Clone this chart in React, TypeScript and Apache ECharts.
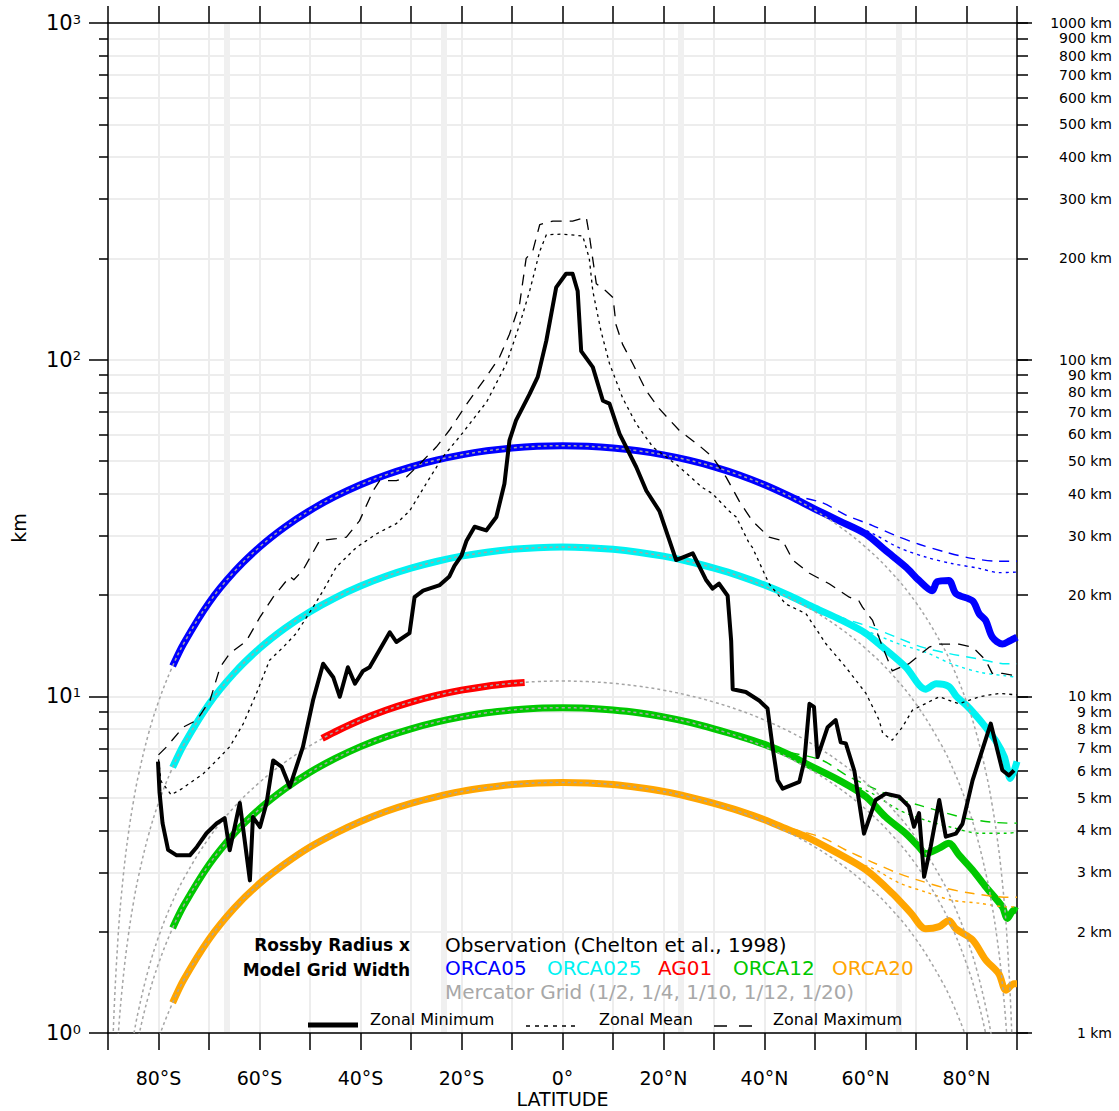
import React, { useEffect, useRef } from 'react';
import * as echarts from 'echarts';

const FONT = '"DejaVu Sans", "Liberation Sans", sans-serif';

// ---------- axis ticks ----------
const kmTickValues = [1, 2, 3, 4, 5, 6, 7, 8, 9, 10, 20, 30, 40, 50, 60, 70, 80, 90, 100, 200, 300, 400, 500, 600, 700, 800, 900, 1000];
const decadeTickValues = [1, 10, 100, 1000];
const minorTickValues = [2, 3, 4, 5, 6, 7, 8, 9, 20, 30, 40, 50, 60, 70, 80, 90, 200, 300, 400, 500, 600, 700, 800, 900];
const referenceLatitudes = [-66.5, -23.5, 23.5, 66.5];

// ---------- Mercator grid widths (km) ----------
const mercatorLatitudes = [-89.5, -89, -88, -87, -86, -85, -84, -82, -80, -77.5, -75, -70, -65, -60, -55, -50, -45, -40, -35, -30, -25, -20, -15, -10, -5, 0, 5, 10, 15, 20, 25, 30, 35, 40, 45, 50, 55, 60, 65, 70, 75, 77.5, 80, 82, 84, 85, 86, 87, 88, 89, 89.5];
const mercator2 = [0.484, 0.969, 1.937, 2.905, 3.871, 4.837, 5.801, 7.724, 9.637, 12.01, 14.36, 18.98, 23.46, 27.75, 31.83, 35.67, 39.24, 42.52, 45.46, 48.06, 50.3, 52.15, 53.61, 54.66, 55.29, 55.5, 55.29, 54.66, 53.61, 52.15, 50.3, 48.06, 45.46, 42.52, 39.24, 35.67, 31.83, 27.75, 23.46, 18.98, 14.36, 12.01, 9.637, 7.724, 5.801, 4.837, 3.871, 2.905, 1.937, 0.969, 0.484];
const mercator4 = [0.242, 0.484, 0.968, 1.452, 1.936, 2.419, 2.901, 3.862, 4.819, 6.006, 7.182, 9.491, 11.73, 13.88, 15.92, 17.84, 19.62, 21.26, 22.73, 24.03, 25.15, 26.08, 26.8, 27.33, 27.64, 27.75, 27.64, 27.33, 26.8, 26.08, 25.15, 24.03, 22.73, 21.26, 19.62, 17.84, 15.92, 13.88, 11.73, 9.491, 7.182, 6.006, 4.819, 3.862, 2.901, 2.419, 1.936, 1.452, 0.968, 0.484, 0.242];
const mercator10 = [0.0969, 0.1937, 0.3874, 0.5809, 0.7743, 0.9674, 1.16, 1.545, 1.927, 2.402, 2.873, 3.796, 4.691, 5.55, 6.367, 7.135, 7.849, 8.503, 9.093, 9.613, 10.06, 10.43, 10.72, 10.93, 11.06, 11.1, 11.06, 10.93, 10.72, 10.43, 10.06, 9.613, 9.093, 8.503, 7.849, 7.135, 6.367, 5.55, 4.691, 3.796, 2.873, 2.402, 1.927, 1.545, 1.16, 0.9674, 0.7743, 0.5809, 0.3874, 0.1937, 0.0969];
const mercator12 = [0.0807, 0.1614, 0.3228, 0.4841, 0.6452, 0.8062, 0.9669, 1.287, 1.606, 2.002, 2.394, 3.164, 3.909, 4.625, 5.306, 5.946, 6.541, 7.086, 7.577, 8.011, 8.383, 8.692, 8.935, 9.109, 9.215, 9.25, 9.215, 9.109, 8.935, 8.692, 8.383, 8.011, 7.577, 7.086, 6.541, 5.946, 5.306, 4.625, 3.909, 3.164, 2.394, 2.002, 1.606, 1.287, 0.9669, 0.8062, 0.6452, 0.4841, 0.3228, 0.1614, 0.0807];
const mercator20 = [0.0484, 0.0969, 0.1937, 0.2905, 0.3871, 0.4837, 0.5801, 0.7724, 0.9637, 1.201, 1.436, 1.898, 2.346, 2.775, 3.183, 3.567, 3.924, 4.252, 4.546, 4.806, 5.03, 5.215, 5.361, 5.466, 5.529, 5.55, 5.529, 5.466, 5.361, 5.215, 5.03, 4.806, 4.546, 4.252, 3.924, 3.567, 3.183, 2.775, 2.346, 1.898, 1.436, 1.201, 0.9637, 0.7724, 0.5801, 0.4837, 0.3871, 0.2905, 0.1937, 0.0969, 0.0484];

// ---------- Model grid widths: zonal minimum [lat, km] ----------
const orca05Min = [[-77.2, 12.3], [-75, 14.36], [-70, 18.98], [-65, 23.46], [-60, 27.75], [-55, 31.83], [-50, 35.67], [-45, 39.24], [-40, 42.52], [-35, 45.46], [-30, 48.06], [-25, 50.3], [-20, 52.15], [-15, 53.61], [-10, 54.66], [-5, 55.29], [0, 55.5], [5, 55.29], [10, 54.66], [15, 53.61], [20, 52.15], [25, 50.3], [30, 48.06], [35, 45.46], [40, 42.52], [45, 39.3], [50, 36.0], [55, 33.1], [60, 30.4], [64, 27.1], [68, 24.2], [70.6, 22.1], [73.2, 20.6], [74.2, 21.9], [76.5, 22.1], [77.9, 20.2], [81.2, 19.2], [82.5, 17.6], [83.8, 16.8], [85.1, 15.0], [87.1, 14.3], [88.5, 14.6], [90, 15.0]];
const orca025Min = [[-77.2, 6.15], [-75, 7.18], [-70, 9.49], [-65, 11.73], [-60, 13.88], [-55, 15.92], [-50, 17.84], [-45, 19.62], [-40, 21.26], [-35, 22.73], [-30, 24.03], [-25, 25.15], [-20, 26.08], [-15, 26.8], [-10, 27.33], [-5, 27.64], [0, 27.75], [5, 27.64], [10, 27.33], [15, 26.8], [20, 26.08], [25, 25.15], [30, 24.03], [35, 22.8], [40, 21.4], [45, 19.9], [50, 18.3], [55, 16.9], [60, 15.4], [63.4, 14.0], [68, 12.2], [71.9, 10.5], [74, 10.9], [76.5, 10.7], [78, 10.0], [80, 9.4], [81.5, 8.9], [83.5, 8.2], [86, 7.3], [87.5, 6.6], [88.7, 5.7], [90, 6.4]];
const ag01Min = [[-47.6, 7.5], [-45, 7.85], [-40, 8.5], [-35, 9.09], [-30, 9.61], [-25, 10.06], [-20, 10.43], [-15, 10.72], [-10, 10.93], [-7.5, 11.0]];
const orca12Min = [[-77.2, 2.05], [-75, 2.39], [-70, 3.16], [-65, 3.91], [-60, 4.63], [-55, 5.31], [-50, 5.95], [-45, 6.54], [-40, 7.09], [-35, 7.58], [-30, 8.01], [-25, 8.38], [-20, 8.69], [-15, 8.94], [-10, 9.11], [-5, 9.22], [0, 9.25], [5, 9.22], [10, 9.11], [15, 8.94], [20, 8.69], [25, 8.38], [30, 8.01], [35, 7.62], [40, 7.2], [45, 6.7], [48.2, 6.31], [54.8, 5.63], [60.1, 5.03], [64, 4.38], [68, 3.91], [70.6, 3.57], [71.9, 3.41], [74.6, 3.54], [76.5, 3.66], [78.5, 3.38], [81.2, 3.05], [83.8, 2.72], [87.1, 2.37], [88.1, 2.19], [89.4, 2.32], [90, 2.3]];
const orca20Min = [[-77.2, 1.23], [-75, 1.44], [-70, 1.9], [-65, 2.35], [-60, 2.78], [-55, 3.18], [-50, 3.57], [-45, 3.92], [-40, 4.25], [-35, 4.55], [-30, 4.81], [-25, 5.03], [-20, 5.22], [-15, 5.36], [-10, 5.47], [-5, 5.53], [0, 5.55], [5, 5.53], [10, 5.47], [15, 5.36], [20, 5.22], [25, 5.03], [30, 4.81], [35, 4.57], [40, 4.3], [45, 4.0], [48.2, 3.83], [54, 3.45], [60.1, 3.05], [65.3, 2.6], [69, 2.27], [71.9, 2.04], [74.6, 2.07], [76.5, 2.16], [77.9, 2.04], [81.2, 1.89], [83.8, 1.65], [86.4, 1.5], [87.8, 1.34], [89.4, 1.4], [90, 1.4]];

// ---------- Model grid widths: zonal mean / maximum (northern hemisphere) ----------
const orca05Max = [[45, 39.6], [51.4, 37.6], [56.2, 34.5], [61.3, 32.2], [66, 30.0], [70.6, 28.3], [75.9, 26.8], [81, 25.7], [86.4, 25.2], [90, 25.2]];
const orca05Mean = [[50, 36.2], [56.8, 32.6], [61.3, 30.5], [66.7, 27.6], [72, 25.9], [77.1, 24.8], [82.5, 24.0], [86.4, 23.3], [90, 23.4]];
const orca025Max = [[48, 18.8], [55.4, 17.1], [61.3, 16.0], [66, 15.0], [71.2, 14.0], [76.5, 13.4], [82.5, 12.9], [87.8, 12.5], [90, 12.5]];
const orca025Mean = [[52, 17.5], [60, 15.7], [66.7, 14.3], [72, 13.5], [77, 12.5], [82.5, 11.8], [87.8, 11.5], [90, 11.4]];
const orca12Max = [[45, 6.8], [51.4, 6.46], [56.2, 5.83], [61.3, 5.36], [66, 4.98], [70.6, 4.75], [76, 4.5], [81, 4.31], [88.4, 4.2], [90, 4.2]];
const orca12Mean = [[50, 6.2], [56.8, 5.51], [61.3, 5.15], [66.7, 4.59], [72, 4.28], [77.1, 4.08], [82.5, 3.92], [88, 3.92], [90, 3.95]];
const orca20Max = [[45, 4.05], [51.4, 3.81], [56.2, 3.49], [61.3, 3.22], [66, 3.0], [70.6, 2.84], [76, 2.69], [81, 2.6], [88.4, 2.53], [90, 2.53]];
const orca20Mean = [[50, 3.75], [56.8, 3.26], [61.3, 3.09], [66.7, 2.79], [72, 2.62], [77.1, 2.48], [82.5, 2.43], [88, 2.37], [90, 2.37]];

// ---------- Observations (Chelton et al., 1998) [lat, km] ----------
const obsMin = [[-80.1, 6.4], [-79.8, 5.2], [-79.2, 4.2], [-78.1, 3.5], [-76.4, 3.37], [-73.8, 3.37], [-72.4, 3.57], [-70.5, 3.92], [-68.5, 4.19], [-66.9, 4.35], [-65.9, 3.49], [-63.9, 4.82], [-61.9, 2.84], [-61.3, 4.38], [-59.9, 4.09], [-58.6, 4.82], [-57.3, 6.45], [-55.6, 6.17], [-54, 5.38], [-51.4, 7.08], [-49.4, 9.73], [-47.4, 12.5], [-45.4, 11.4], [-44.1, 9.97], [-42.5, 12.2], [-41.1, 10.9], [-39.5, 11.9], [-38.2, 12.2], [-34.2, 15.5], [-32.9, 14.5], [-30.3, 15.4], [-29.3, 19.7], [-27.6, 20.6], [-24.3, 21.4], [-22.4, 22.7], [-21.4, 24.4], [-20, 26.2], [-19, 29.0], [-17.4, 31.9], [-15.1, 31.1], [-13.1, 34.1], [-11.5, 42.8], [-10.5, 57.6], [-9.2, 66.0], [-6.5, 79.1], [-4.9, 88.9], [-3.2, 113.9], [-1.25, 164], [0.7, 180], [2.0, 180], [3.0, 160], [3.7, 106], [6.0, 95], [8.0, 75.5], [9.3, 74], [11.3, 60.2], [14.6, 48], [16.6, 40.8], [19.2, 35.5], [22.5, 25.4], [25.8, 26.6], [28.4, 22.2], [29.7, 20.9], [31, 21.6], [32.7, 19.9], [33.4, 14.6], [33.7, 10.5], [36.3, 10.3], [39, 9.7], [40.6, 9.2], [41.6, 7.07], [42.6, 5.63], [43.6, 5.32], [46.9, 5.57], [47.9, 6.45], [48.9, 9.5], [49.8, 9.3], [50.5, 6.6], [52.5, 8.1], [54.1, 8.5], [55.1, 7.3], [56.1, 7.25], [57.8, 6.0], [59.7, 3.91], [62, 4.92], [64, 5.14], [66.7, 5.03], [68.6, 4.7], [69.6, 4.1], [70.6, 4.5], [71.6, 2.91], [72.9, 3.57], [74.6, 4.92], [75.9, 3.83], [77.9, 3.91], [79.2, 4.18], [81.2, 5.63], [84.8, 8.3], [87.1, 6.03], [88.4, 5.82], [89.4, 6.03]];
const obsMean = [[-80, 6.5], [-79.5, 5.6], [-77.5, 5.1], [-75.5, 5.3], [-71.1, 5.9], [-68.5, 6.45], [-65.9, 7.08], [-63.2, 8.3], [-60.6, 10.2], [-58, 12.8], [-55.3, 14.0], [-52.7, 15.4], [-49.4, 18.4], [-47.4, 20.6], [-44.8, 24.2], [-40.8, 27.7], [-36.8, 30.4], [-32.9, 32.6], [-30.3, 35.5], [-27, 42.8], [-23.7, 51.4], [-20, 60], [-15, 75], [-11.1, 97.4], [-8.5, 127], [-6.5, 160], [-4.5, 210], [-3.2, 235], [0, 236], [4.0, 233], [5.3, 200], [6, 160], [7.6, 122], [9.3, 97.4], [11.9, 77], [14.6, 64.5], [17.9, 55], [22.8, 48.5], [27.7, 41.7], [29.7, 40.0], [33, 35.5], [34.4, 34.1], [37, 28.4], [37.6, 27.7], [40.9, 21.6], [44.2, 18.8], [48.2, 17.6], [52.2, 14.3], [56.1, 12.2], [60.1, 10.2], [62.7, 8.5], [63.4, 7.77], [65.3, 7.41], [67.3, 8.1], [69.3, 9.1], [74.6, 9.97], [78.5, 9.5], [82.5, 9.97], [86.4, 10.2], [90, 10.1]];
const obsMax = [[-80, 6.7], [-78.4, 7.08], [-75.1, 8.1], [-72.4, 8.5], [-69.8, 9.73], [-67.8, 12.2], [-65.9, 13.4], [-62.6, 14.6], [-59.9, 17.2], [-57.3, 19.7], [-54, 22.7], [-53.2, 22.2], [-51.4, 23.7], [-48.1, 29.0], [-44.8, 29.4], [-42.8, 29.7], [-40.2, 33.2], [-37.5, 40.8], [-36.2, 43.7], [-32.9, 43.7], [-30.9, 44.8], [-27.6, 50.2], [-25, 55.0], [-22.4, 61.7], [-19, 73.7], [-15.1, 88.9], [-12.5, 101.5], [-10.5, 119], [-8.5, 146], [-7.2, 200], [-5.9, 210], [-4.5, 252], [-1.9, 258], [2, 258], [4.7, 265], [5.3, 235], [6.7, 168], [8.6, 160], [10, 153], [10.6, 127], [11.9, 111], [13.9, 97.4], [16.6, 80.7], [19.2, 71.4], [23.1, 61.7], [27.1, 55.5], [29.7, 51.4], [32.4, 44.8], [35, 38.0], [36.3, 35.5], [37.6, 33.2], [40.9, 29.7], [43.6, 29.0], [45.6, 25.4], [48.9, 23.2], [52.8, 21.6], [56.8, 19.7], [58.7, 19.2], [59.4, 18.4], [61.4, 16.8], [63.4, 14.0], [65.3, 11.9], [68.6, 12.5], [72.6, 14.0], [74.6, 14.3], [78.5, 14.3], [81.2, 14.0], [83.8, 12.8], [85.1, 11.7], [87.1, 11.7], [90, 11.5]];

const BLUE = '#0000ff';
const CYAN = '#00f2f2';
const RED = '#ff0000';
const GREEN = '#00c800';
const ORANGE = '#ffa500';
const MERC_GRAY = '#a5a5a5';
const GRID_GRAY = '#ededed';

const modelLegend = [
  { name: 'ORCA05', color: BLUE, x: 445 },
  { name: 'ORCA025', color: CYAN, x: 547 },
  { name: 'AG01', color: RED, x: 658 },
  { name: 'ORCA12', color: GREEN, x: 733 },
  { name: 'ORCA20', color: ORANGE, x: 832 },
];

function lineSeries(name: string, data: any[], color: string, width: number, dash: any, z: number, smooth: number | boolean) {
  return {
    name,
    type: 'line',
    xAxisIndex: 0,
    yAxisIndex: 0,
    data,
    showSymbol: false,
    symbol: 'none',
    smooth,
    clip: true,
    silent: true,
    z,
    emphasis: { disabled: true },
    lineStyle: { color, width, type: dash, cap: 'butt', join: 'round' },
  };
}

const App: React.FC = () => {
  const ref = useRef<HTMLDivElement>(null);

  useEffect(() => {
    document.body.style.margin = '0';
    if (!ref.current) return;
    const chart = echarts.init(ref.current, undefined, { renderer: 'svg' });

    const lg = (v: number) => Math.log10(v);
    const decades = decadeTickValues.map(lg);
    const minors = minorTickValues.map(lg);
    const allKm = kmTickValues.map(lg);
    const merc = (vals: number[]) => mercatorLatitudes.map((lat, i) => [lat, vals[i]]);

    const latLabel = (v: number) => {
      if (v === 0) return '0°';
      if (Math.abs(v) % 20 === 0 && Math.abs(v) < 90) return `${Math.abs(v)}°${v < 0 ? 'S' : 'N'}`;
      return '';
    };

    const axisLineStyle = { color: '#000', width: 1.5 };

    const series: any[] = [
      lineSeries('ORCA05', orca05Min, BLUE, 7, 'solid', 3, 0.3),
      lineSeries('ORCA025', orca025Min, CYAN, 7, 'solid', 3, 0.3),
      lineSeries('AG01', ag01Min, RED, 7, 'solid', 3, 0.3),
      lineSeries('ORCA12', orca12Min, GREEN, 7, 'solid', 3, 0.3),
      lineSeries('ORCA20', orca20Min, ORANGE, 7, 'solid', 3, 0.3),
      lineSeries('ORCA05 max', orca05Max, BLUE, 1.4, [10, 7], 3, 0.3),
      lineSeries('ORCA05 mean', orca05Mean, BLUE, 1.4, [3, 4], 3, 0.3),
      lineSeries('ORCA025 max', orca025Max, CYAN, 1.4, [10, 7], 3, 0.3),
      lineSeries('ORCA025 mean', orca025Mean, CYAN, 1.4, [3, 4], 3, 0.3),
      lineSeries('ORCA12 max', orca12Max, GREEN, 1.4, [10, 7], 3, 0.3),
      lineSeries('ORCA12 mean', orca12Mean, GREEN, 1.4, [3, 4], 3, 0.3),
      lineSeries('ORCA20 max', orca20Max, ORANGE, 1.4, [10, 7], 3, 0.3),
      lineSeries('ORCA20 mean', orca20Mean, ORANGE, 1.4, [3, 4], 3, 0.3),
      lineSeries('Mercator 1/2', merc(mercator2), MERC_GRAY, 1.5, [3, 3], 4, 0.4),
      lineSeries('Mercator 1/4', merc(mercator4), MERC_GRAY, 1.5, [3, 3], 4, 0.4),
      lineSeries('Mercator 1/10', merc(mercator10), MERC_GRAY, 1.5, [3, 3], 4, 0.4),
      lineSeries('Mercator 1/12', merc(mercator12), MERC_GRAY, 1.5, [3, 3], 4, 0.4),
      lineSeries('Mercator 1/20', merc(mercator20), MERC_GRAY, 1.5, [3, 3], 4, 0.4),
      lineSeries('Obs mean', obsMean, '#000', 1.3, [3, 4], 6, false),
      lineSeries('Obs max', obsMax, '#000', 1.3, [11, 8], 6, false),
      lineSeries('Obs min', obsMin, '#000', 4, 'solid', 7, false),
    ];

    const text = (t: string, x: number, y: number, font: string, fill: string, align = 'left') => ({
      type: 'text',
      x,
      y,
      silent: true,
      z: 10,
      style: { text: t, x: 0, y: 0, font, fill, align, verticalAlign: 'middle' },
    });

    const graphic: any[] = [
      text('Rossby Radius x', 410, 945, `bold 17px ${FONT}`, '#000', 'right'),
      text('Model Grid Width', 410, 970, `bold 17px ${FONT}`, '#000', 'right'),
      text('Observation (Chelton et al., 1998)', 445, 945, `20px ${FONT}`, '#000'),
      ...modelLegend.map((m) => text(m.name, m.x, 968, `20px ${FONT}`, m.color)),
      text('Mercator Grid (1/2, 1/4, 1/10, 1/12, 1/20)', 445, 992, `20px ${FONT}`, '#a8a8a8'),
      { type: 'line', silent: true, z: 10, shape: { x1: 308, y1: 1025, x2: 358, y2: 1025 }, style: { stroke: '#000', lineWidth: 5 } },
      text('Zonal Minimum', 370, 1019, `16px ${FONT}`, '#000'),
      { type: 'line', silent: true, z: 10, shape: { x1: 526, y1: 1026, x2: 579, y2: 1026 }, style: { stroke: '#000', lineWidth: 1.5, lineDash: [4, 5] } },
      text('Zonal Mean', 599, 1019, `16px ${FONT}`, '#000'),
      { type: 'line', silent: true, z: 10, shape: { x1: 714, y1: 1026, x2: 752, y2: 1026 }, style: { stroke: '#000', lineWidth: 1.5, lineDash: [13, 12] } },
      text('Zonal Maximum', 773, 1019, `16px ${FONT}`, '#000'),
    ];

    chart.setOption({
      animation: false,
      backgroundColor: '#ffffff',
      textStyle: { fontFamily: FONT },
      grid: { left: 108, right: 102, top: 23, bottom: 78, containLabel: false, outerBoundsMode: 'none' },
      xAxis: [
        {
          type: 'value',
          min: -90,
          max: 90,
          interval: 10,
          position: 'bottom',
          axisLine: { show: true, onZero: false, lineStyle: axisLineStyle },
          axisTick: { show: true, inside: false, length: 17, lineStyle: axisLineStyle },
          axisLabel: { formatter: latLabel, margin: 35, fontSize: 19, lineHeight: 19, color: '#000', fontFamily: FONT, showMinLabel: true, showMaxLabel: true, hideOverlap: false },
          splitLine: { show: true, lineStyle: { color: GRID_GRAY, width: 2 } },
          name: 'LATITUDE',
          nameLocation: 'middle',
          nameGap: 56,
          nameMoveOverlap: false,
          nameTextStyle: { fontSize: 19, lineHeight: 20, color: '#000', fontFamily: FONT },
        },
        {
          type: 'value',
          min: -90,
          max: 90,
          interval: 10,
          position: 'top',
          axisLine: { show: true, onZero: false, lineStyle: axisLineStyle },
          axisTick: { show: true, inside: false, length: 17, lineStyle: axisLineStyle },
          axisLabel: { show: false },
          splitLine: { show: false },
        },
        {
          // tropic / polar circle reference lines
          type: 'value',
          min: -90,
          max: 90,
          position: 'bottom',
          axisLine: { show: false, onZero: false },
          axisTick: { show: false, customValues: referenceLatitudes },
          axisLabel: { show: false },
          splitLine: { show: true, lineStyle: { color: '#f0f0f0', width: 6 } },
        },
      ],
      yAxis: [
        { type: 'log', logBase: 10, min: 1, max: 1000, show: false },
        {
          type: 'value',
          min: 0,
          max: 3,
          position: 'left',
          axisLine: { show: true, onZero: false, lineStyle: axisLineStyle },
          axisTick: { show: true, length: 19, customValues: decades, lineStyle: axisLineStyle },
          axisLabel: {
            customValues: decades,
            margin: 27,
            formatter: (v: number) => `{b|10}{s|${Math.round(v)}}`,
            rich: {
              b: { fontSize: 21, color: '#000', fontFamily: FONT },
              s: { fontSize: 13, color: '#000', fontFamily: FONT, verticalAlign: 'top' },
            },
          },
          splitLine: { show: true, lineStyle: { color: GRID_GRAY, width: 2 } },
          name: 'km',
          nameLocation: 'middle',
          nameGap: 80,
          nameTextStyle: { fontSize: 19, color: '#000', fontFamily: FONT },
        },
        {
          type: 'value',
          min: 0,
          max: 3,
          position: 'left',
          axisLine: { show: false, onZero: false },
          axisTick: { show: true, length: 9, customValues: minors, lineStyle: axisLineStyle },
          axisLabel: { show: false },
          splitLine: { show: true, lineStyle: { color: GRID_GRAY, width: 2 } },
        },
        {
          type: 'value',
          min: 0,
          max: 3,
          position: 'right',
          axisLine: { show: true, onZero: false, lineStyle: axisLineStyle },
          axisTick: { show: true, length: 11, customValues: allKm, lineStyle: axisLineStyle },
          axisLabel: {
            customValues: allKm,
            align: 'right',
            margin: 95,
            fontSize: 14,
            lineHeight: 14,
            color: '#000',
            fontFamily: FONT,
            formatter: (v: number) => `${Math.round(Math.pow(10, v))} km`,
          },
          splitLine: { show: false },
        },
        {
          type: 'value',
          min: 0,
          max: 3,
          position: 'right',
          axisLine: { show: false, onZero: false },
          axisTick: { show: true, length: 15, customValues: decades, lineStyle: axisLineStyle },
          axisLabel: { show: false },
          splitLine: { show: false },
        },
      ],
      series,
      graphic,
    });

    return () => {
      chart.dispose();
    };
  }, []);

  return <div ref={ref} style={{ width: 1119, height: 1111 }} />;
};

export default App;
